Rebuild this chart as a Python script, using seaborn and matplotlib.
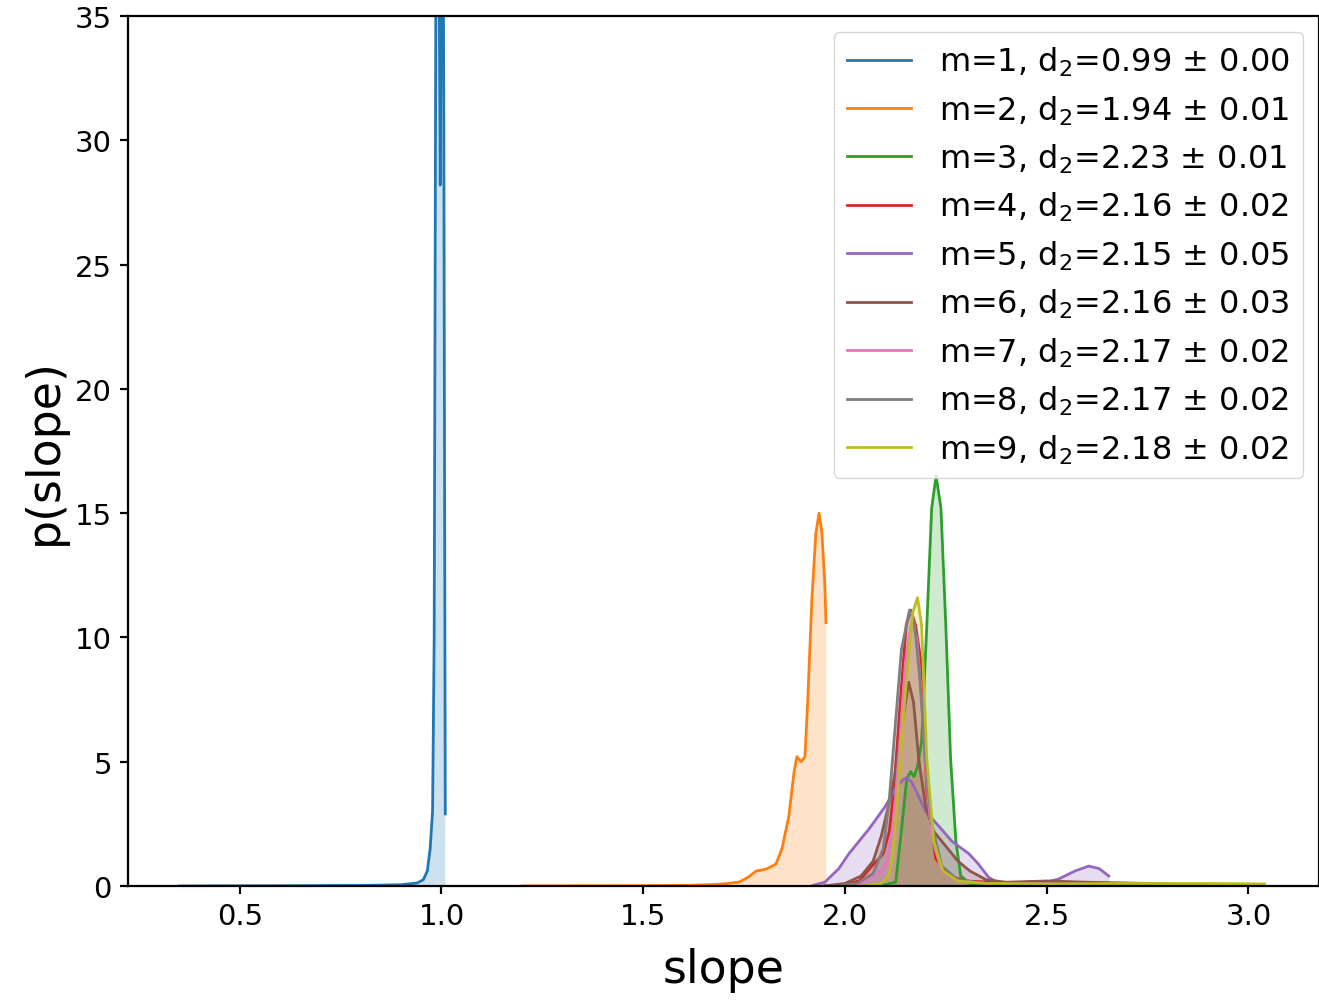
import numpy as np
import pandas as pd
import seaborn as sns
import matplotlib
matplotlib.use("Agg")
import matplotlib.pyplot as plt

# density curves, one pair of arrays per embedding dimension m
slope_m1 = [0.35, 0.60, 0.80, 0.90, 0.94, 0.955, 0.965, 0.972, 0.978, 0.982, 0.986, 0.990,
            0.994, 0.997, 1.000, 1.003, 1.006, 1.0095]
dens_m1 = [0.0, 0.01, 0.02, 0.05, 0.12, 0.25, 0.6, 1.5, 3.0, 10.0, 35.0, 45.0,
           38.0, 28.2, 38.0, 45.0, 30.0, 2.9]

slope_m2 = [1.20, 1.50, 1.62, 1.68, 1.71, 1.738, 1.76, 1.78, 1.805, 1.829, 1.844, 1.861,
            1.874, 1.881, 1.891, 1.901, 1.908, 1.918, 1.928, 1.936, 1.943, 1.950, 1.953]
dens_m2 = [0.0, 0.01, 0.03, 0.06, 0.1, 0.16, 0.35, 0.6, 0.68, 0.88, 1.5, 2.8,
           4.6, 5.2, 5.0, 5.2, 7.5, 11.5, 14.2, 15.0, 14.2, 12.2, 10.6]

slope_m3 = [2.05, 2.10, 2.126, 2.141, 2.153, 2.163, 2.171, 2.18, 2.19, 2.203, 2.215, 2.226,
            2.238, 2.25, 2.262, 2.275, 2.287, 2.31, 2.35, 2.45]
dens_m3 = [0.0, 0.05, 0.16, 2.4, 4.3, 4.6, 4.4, 4.8, 5.8, 10.5, 15.2, 16.5,
           15.2, 10.5, 5.1, 1.8, 0.4, 0.1, 0.03, 0.0]

slope_m4 = [1.95, 2.0, 2.035, 2.067, 2.084, 2.095, 2.11, 2.121, 2.139, 2.152, 2.163, 2.175,
            2.188, 2.196, 2.203, 2.225, 2.26, 2.3, 2.4, 2.5, 2.55, 2.65, 2.8]
dens_m4 = [0.0, 0.05, 0.2, 0.8, 1.1, 1.3, 2.2, 3.8, 7.8, 10.5, 11.1, 10.5,
           9.1, 6.0, 3.8, 1.1, 0.4, 0.2, 0.12, 0.18, 0.15, 0.1, 0.05]

slope_m5 = [1.92, 1.95, 1.985, 2.01, 2.06, 2.10, 2.125, 2.139, 2.151, 2.165, 2.18, 2.20,
            2.233, 2.265, 2.307, 2.33, 2.356, 2.38, 2.42, 2.48, 2.53, 2.57, 2.604, 2.63, 2.654]
dens_m5 = [0.02, 0.15, 0.7, 1.3, 2.3, 3.2, 3.9, 4.2, 4.35, 4.2, 3.7, 3.0,
           2.4, 1.8, 1.3, 0.9, 0.35, 0.12, 0.06, 0.08, 0.28, 0.6, 0.8, 0.7, 0.4]

slope_m6 = [1.95, 2.0, 2.04, 2.07, 2.09, 2.109, 2.125, 2.141, 2.158, 2.17, 2.183, 2.20,
            2.22, 2.25, 2.28, 2.31, 2.35, 2.4, 2.5, 2.6, 2.7, 2.8]
dens_m6 = [0.0, 0.1, 0.4, 1.0, 2.0, 3.3, 4.6, 6.4, 8.2, 7.4, 5.1, 3.2,
           2.2, 1.6, 1.0, 0.6, 0.25, 0.15, 0.2, 0.15, 0.12, 0.08]

slope_m7 = [2.0, 2.04, 2.06, 2.075, 2.09, 2.105, 2.12, 2.135, 2.15, 2.165, 2.178, 2.19,
            2.20, 2.215, 2.24, 2.28, 2.35, 2.5, 2.7, 2.85]
dens_m7 = [0.0, 0.1, 0.3, 0.5, 0.6, 1.0, 2.5, 5.5, 9.0, 10.6, 10.0, 7.5,
           4.8, 2.0, 0.6, 0.2, 0.1, 0.08, 0.05, 0.03]

slope_m8 = [1.98, 2.03, 2.07, 2.095, 2.11, 2.125, 2.14, 2.16, 2.172, 2.185, 2.20, 2.215,
            2.24, 2.28, 2.35, 2.5, 2.7, 2.9]
dens_m8 = [0.0, 0.1, 0.5, 1.5, 3.5, 6.5, 9.5, 11.1, 10.6, 8.5, 5.0, 2.5,
           0.8, 0.25, 0.1, 0.06, 0.04, 0.02]

slope_m9 = [2.05, 2.09, 2.109, 2.12, 2.13, 2.14, 2.155, 2.168, 2.18, 2.19, 2.203, 2.22,
            2.243, 2.28, 2.35, 2.5, 2.7, 2.9, 3.04]
dens_m9 = [0.0, 0.1, 0.4, 1.5, 3.5, 5.8, 8.8, 11.0, 11.6, 10.5, 5.1, 1.8,
           0.6, 0.2, 0.1, 0.08, 0.1, 0.1, 0.08]

labels = [
    "m=1, d$_2$=0.99 ± 0.00",
    "m=2, d$_2$=1.94 ± 0.01",
    "m=3, d$_2$=2.23 ± 0.01",
    "m=4, d$_2$=2.16 ± 0.02",
    "m=5, d$_2$=2.15 ± 0.05",
    "m=6, d$_2$=2.16 ± 0.03",
    "m=7, d$_2$=2.17 ± 0.02",
    "m=8, d$_2$=2.17 ± 0.02",
    "m=9, d$_2$=2.18 ± 0.02",
]

slopes = [slope_m1, slope_m2, slope_m3, slope_m4, slope_m5,
          slope_m6, slope_m7, slope_m8, slope_m9]
dens = [dens_m1, dens_m2, dens_m3, dens_m4, dens_m5,
        dens_m6, dens_m7, dens_m8, dens_m9]

colors = sns.color_palette("tab10", 9)

fig = plt.figure(figsize=(13.19, 10.03), dpi=100)
ax = fig.add_axes([0.097, 0.1157, 0.903, 0.8673])

for xs, ys, lab, c in zip(slopes, dens, labels, colors):
    df = pd.DataFrame({"slope": xs, "p": ys})
    sns.lineplot(data=df, x="slope", y="p", color=c, label=lab, ax=ax,
                 linewidth=2.0, sort=False, estimator=None)
    ax.fill_between(df["slope"], 0, df["p"], color=c, alpha=0.22, linewidth=0)

ax.set_xlim(0.223, 3.175)
ax.set_ylim(0, 35)
ax.set_xticks([0.5, 1.0, 1.5, 2.0, 2.5, 3.0])
ax.set_yticks(range(0, 36, 5))
ax.tick_params(labelsize=21, length=5.5, width=1.6, pad=6)
for s in ax.spines.values():
    s.set_linewidth(1.6)

ax.set_xlabel("slope", fontsize=33, labelpad=12)
ax.set_ylabel("p(slope)", fontsize=33, labelpad=6)

ax.legend(loc="upper right", fontsize=23, handlelength=2.0, handletextpad=0.9,
          labelspacing=0.47, framealpha=0.8)

fig.savefig("out.png", dpi=100)
